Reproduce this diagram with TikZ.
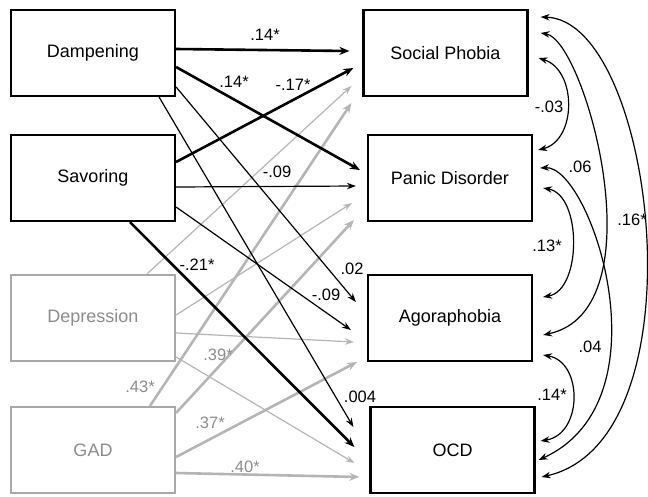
\documentclass[tikz,border=0pt]{standalone}
\usepackage{fontspec}
\setmainfont{Liberation Sans}
\usetikzlibrary{arrows.meta,calc}
\definecolor{lgrey}{HTML}{B5B5B5}
\definecolor{tgrey}{HTML}{8C8C8C}
\definecolor{bgrey}{HTML}{A8A8A8}
\begin{document}
\begin{tikzpicture}[x=1pt,y=-1pt,
  box/.style={draw=black,line width=2.2pt,minimum width=164pt,minimum height=86pt,inner sep=0pt,font=\fontsize{18}{20}\selectfont},
  gbox/.style={box,draw=bgrey,text=tgrey},
  lab/.style={font=\fontsize{16.5}{18}\selectfont,inner sep=0pt},
  glab/.style={lab,text=tgrey},
  thk/.style={line width=2.6pt,-{Stealth[length=10pt,width=8pt]}},
  thn/.style={line width=1.2pt,-{Stealth[length=9pt,width=6.5pt]}},
  gthk/.style={thk,draw=lgrey},
  gthn/.style={thn,draw=lgrey},
  dbl/.style={line width=1.2pt,{Stealth[length=9pt,width=6.5pt]}-{Stealth[length=9pt,width=6.5pt]}}]
\useasboundingbox (0,0) rectangle (648,496);
% boxes
\node[box] (damp) at (93,53) {Dampening};
\node[box] (sav) at (93,178) {Savoring};
\node[gbox] (dep) at (93,318) {Depression};
\node[gbox] (gad) at (93,450) {GAD};
\node[box] (sp) at (445.5,53) {Social Phobia};
\node[box] (pd) at (450,178) {Panic Disorder};
\node[box] (ag) at (450,318) {Agoraphobia};
\node[box] (ocd) at (452.5,450) {OCD};
% grey paths
\draw[gthn] ($(dep.north)+(54,0)$) -- ($(sp.west)+(-11,33)$);
\draw[gthk] ($(gad.north)+(57,0)$) -- ($(sp.west)+(-11,50)$);
\draw[gthn] ($(dep.east)+(0,-3)$) -- ($(pd.west)+(-15,25)$);
\draw[gthk] ($(gad.north east)+(0,7)$) -- ($(pd.west)+(-13,42)$);
\draw[gthn] ($(dep.east)+(0,15)$) -- ($(ag.west)+(-13,24)$);
\draw[gthk] ($(gad.east)+(0,7)$) -- ($(ag.west)+(-10,44)$);
\draw[gthn] ($(dep.east)+(0,39)$) -- ($(ocd.west)+(-15,13)$);
\draw[gthk] ($(gad.east)+(0,23)$) -- ($(ocd.west)+(-10,27)$);
% black paths
\draw[thk] ($(damp.east)+(0,-4)$) -- ($(sp.west)+(-13,-2)$);
\draw[thk] ($(sav.east)+(0,-16)$) -- ($(sp.west)+(-9,15)$);
\draw[thk] ($(damp.east)+(0,14)$) -- ($(pd.west)+(-7,-8)$);
\draw[thn] ($(sav.east)+(0,9)$) -- ($(pd.west)+(-11,8)$);
\draw[thn] ($(damp.east)+(0,34)$) -- ($(ag.west)+(-11,-16)$);
\draw[thn] ($(sav.east)+(0,29)$) -- ($(ag.west)+(-16,12)$);
\draw[thn] ($(damp.south east)+(-17,0)$) -- ($(ocd.west)+(-16,-23)$);
\draw[thk] ($(sav.south)+(37,0)$) -- ($(ocd.west)+(-15,-3)$);
% correlations
\draw[dbl] ($(sp.east)+(10,5)$) .. controls (577,70) and (577,140) .. ($(pd.east)+(5,-28)$);
\draw[dbl] ($(sp.east)+(12,-20)$) .. controls (585,40) and (660,310) .. ($(ag.east)+(10,17)$);
\draw[dbl] ($(sp.east)+(12,-36)$) .. controls (655,20) and (705,440) .. ($(ocd.east)+(6,27)$);
\draw[dbl] ($(pd.east)+(10,10)$) .. controls (582,195) and (582,290) .. ($(ag.east)+(10,-21)$);
\draw[dbl] ($(pd.east)+(7,-10)$) .. controls (590,165) and (670,400) .. ($(ocd.east)+(3,10)$);
\draw[dbl] ($(ag.east)+(10,37)$) .. controls (583,362) and (583,434) .. ($(ocd.east)+(5,-9)$);
% labels
\node[lab] (l1) at (265,35) {.14*};
\node[lab] (l2) at (234,82) {.14*};
\node[lab] (l3) at (293,85) {-.17*};
\node[lab] (l4) at (277,172) {-.09};
\node[lab] (l5) at (197,265) {-.21*};
\node[lab] (l6) at (326,295) {-.09};
\node[lab] (l7) at (352,269) {.02};
\node[lab] (l8) at (360,397) {.004};
\node[glab] (l9) at (218,355) {.39*};
\node[glab] (l10) at (140,387) {.43*};
\node[glab] (l11) at (210,423) {.37*};
\node[glab] (l12) at (245,467) {.40*};
\node[lab] (l13) at (549,107) {-.03};
\node[lab] (l14) at (580,167) {.06};
\node[lab] (l15) at (632,220) {.16*};
\node[lab] (l16) at (547,246) {.13*};
\node[lab] (l17) at (590,347) {.04};
\node[lab] (l18) at (552,395) {.14*};
\end{tikzpicture}
\end{document}
